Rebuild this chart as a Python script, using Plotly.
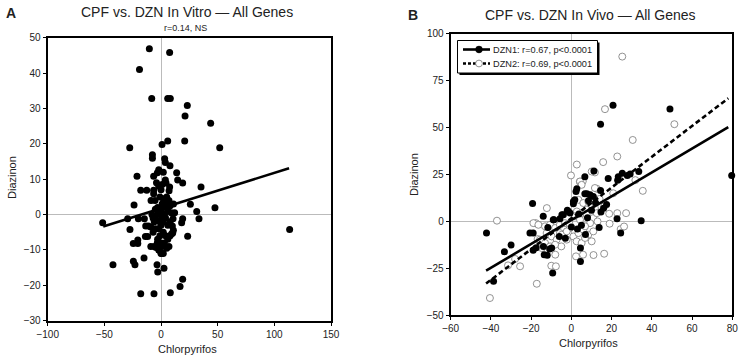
import plotly.graph_objects as go

# ---------------- Panel A data (in vitro) ----------------
a_x = [-10.3, 7.6, -19, -8.2, 5.9, 8.2, 23.2, 21.2, 43.8, 5.9, 20.9, 0.9, -27.6, 51.8,
       -7.6, -7.6, 3.2, 3.8, 7.9, -2, -3.2, -6.5, -21.2, 13.8, 14.7, 19.1, 3.8, 4.4, 7.6,
       7.1, 35.3, -17.9, -12.6, -6.5, -6.5, -8.8, -5.3, -23.8, 25.9, 31.5, 47.6, 33.5,
       -29.4, -51.5, -20, -14.7, -27.4, -13.5, -11.2, 10.6, 10, 10.3, 18.2, 19.1, 23.5,
       113.5, -13.8, -11.8, -20.5, -24.5, -20.5, -15, -24.4, -23, -42.4, -3.5, -2.9, 2.6,
       19.1, 16.8, -17.9, -6.2, 8.2,
       -1, 1, 2, 4, 5, 6, 7, 8, 9, 3, 1, -1, -3, -4, -2, 0, 2, 4, 6, 8, -5, -6, -7, -8,
       -3, -5, 0, 2, 4, -1, -3, 0, 3, 6, 7, 5, 1, -2, -4, 0, 2, -6, 8, -9, -7, -9, 12, 11,
       -2, 0, -4, 2, 5, 1, -3.3, -4.4, -1.5, 0.6, 9.4, 10.9]
a_y = [46.9, 45.8, 41, 32.8, 32.8, 32.8, 30.8, 27.9, 25.8, 20.8, 20.8, 19.8, 18.9, 18.9,
       16.9, 15.9, 15.8, 14.7, 13.8, 12.7, 11.8, 10.8, 10.8, 11.8, 9.8, 8.9, 9.8, 8.9, 7.8,
       6.7, 7.8, 6.9, 6.9, 6.9, 5.9, 4.0, 4.0, 2.7, 2.9, 0.9, 1.9, -1.2,
       -1.2, -2.3, -1.2, -1.2, -4.2, -3.2, -3.2, -1.2, -3.2, -5.2, -2.3, -1.2, -6.1,
       -4.2, -6.2, -6.2, -7.2, -8.2, -8.2, -12.3, -13.2, -14.2, -14.2, -14.2, -16.2, -15.2,
       -18.3, -20.3, -22.4, -22.4, -22.1,
       5, 3, 4.5, 2, 3.5, 1, 4, 2.5, 0.5, 0, -1, -2, 0, -1.5, -4, -3, -2, -1, -3, -2, -4,
       -2, -1, 0, 2, 1.5, 1, -5, -6, -6, -7, -8, -8, -7, -9, -9.5, -9, -10, -9, -11, -11,
       -9, -6, -9, -5, -3.5, 0.5, 3, 8, 7, 9, 12, 5, 8.5, -8, -9.3, -10.1, -11, -5.4, -4.4]
fit_a_x = [-51, 113]
fit_a_y = [-3.4, 13.1]

# ---------------- Panel B data (in vivo) ----------------
b1_x = [-42.2, -38.7, -33.3, -30, -19.3, -19, -19, -17.5, -14, -13.5, -12, -11.7, -10.8,
        -9.3, -8.7, -5.7, -4.7, -2, 1, 1.7, 2.7, 3.7, 4.5, 4.5, 6.7, 6.7, 7.7, 8.5, 11.2,
        14.5, 14.5, 14.7, 13.8, 18.3, 20.7, 22.7, 23.3, 23, 24.5, 25.3, 27.8, 29.2, 33.5,
        34.7, 49, 79.7,
        -20.6, -13.9, -9.8, -9, -4, -0.7, 1, 2.3, 9.3, 10.9, -1.5, 5, 7, 3, 12, 10, 8, 0,
        -6, -3, 16, 17.5]
b1_y = [-6.2, -31.9, -16.1, -12.6, 9.6, -6.2, -15.4, -14, 2.7, -17.7, -18, -3.2, -14.7,
        -27.5, 0.9, 1.4, 3.5, 5.9, 9.4, 11.5, 17.4, 3.9, -14.2, -21.3, 14.7, 23.8, 14.7,
        11, 26.8, 51.8, 16.5, 5, -3.2, 22.9, 61.9, 1.4, 23.8, 22, -6.2, 25.7, 24.5, 25.2,
        26.6, 0.4, 59.9, 24.5,
        -6.2, -13.3, -14.2, 0.9, 3.6, 4.5, 10.6, 16, 14.2, 13.3, 5.3, -2, -7, -4, 10, 6,
        2, -3, -8, -9, 7, 9]
b2_x = [-37, -40.5, -31.5, -25.5, -17.2, -17.7, -16.8, -14.7, -12.2, -10, -7.7, -8, -5.7,
        -5, -0.2, 2.7, 2.3, 5.8, 11, 16.3, 16.7, 15.8, 11.7, 12.7, 4.2, 5.7, 22.8, 25.3,
        30.5, 31.8, 35.5, 51.2, 82.2, 18.8, 19, 22.8, 24.5, 26.2, 27.2, 16.3, 20.8, 10.1,
        4.3, 5.1, 11.7, 3.5, 5.9, 8.4, 10.1, 7.6, 11.7, 5.1, 2.7, 9.3,
        -18.9, -16.4, -13.1, -10.6, -8.1, -5.7, -3.2, -0.7, -12.3, -9.8, -7.3, -4.8, -2.3,
        -15.6, -13.1, -10.6, -8.1, -2.3, 1, 3.5, 6, 8.4, 10.9, 2.6, 5.1, 6.8, 10.1, 1.8,
        4.3, 7.6, 10.9, 12.6, 9.3, 6.8, -28, 14, 13, -1]
b2_y = [0.4, -40.8, -23.4, -23.9, -33.2, -0.9, -9.4, -14.2, 7.1, -23.6, -23.9, -17.7, -6.2,
        -13.3, 24.5, 30.3, -18.6, -17.7, -17.9, -17.2, 59.8, 31.6, 26.1, 17.4, 21.1, 21.5,
        34.6, 87.8, 43.4, 22, 16.3, 51.8, 72.2, 4.1, -1.2, 4.4, -4.1, -2.7, 4.4, 8, 15,
        26.6, 21.3, 19.5, 17.8, 11.5, 9.8, 10.6, 8.9, 6.2, 7.1, 4.5, 5.3, 3.6,
        -0.9, -1.8, -2.6, -1.8, -3.5, -1.8, -0.9, -3.5, -6.2, -8, -9.7, -7.1, -5.3,
        -9.7, -11.5, -13.3, -12.4, -9.7, -8, -6.2, -4.4, -7.1, -5.3, -10.6, -11.5, -8.8,
        -10.6, 2.7, 0.9, 3.6, 1.8, 4.4, -0.9, -2.6, -20, 12, 0, -1]
fit_b1_x = [-42.4, 78]
fit_b1_y = [-26.2, 50.2]
fit_b2_x = [-42.4, 78]
fit_b2_y = [-33.1, 65.6]
legend_labels = ["DZN1: r=0.67, p<0.0001", "DZN2: r=0.69, p<0.0001"]

FONT = "Liberation Sans, Arial, Helvetica, sans-serif"
W, H = 747, 362

fig = go.Figure()

# Panel A
fig.add_trace(go.Scatter(x=a_x, y=a_y, mode="markers", xaxis="x", yaxis="y",
                         marker=dict(size=7, color="black", line=dict(width=0)),
                         showlegend=False, hoverinfo="skip"))
fig.add_trace(go.Scatter(x=fit_a_x, y=fit_a_y, mode="lines", xaxis="x", yaxis="y",
                         line=dict(color="black", width=2.6), showlegend=False, hoverinfo="skip"))

# Panel B
fig.add_trace(go.Scatter(x=b2_x, y=b2_y, mode="markers", xaxis="x2", yaxis="y2",
                         marker=dict(size=7, color="white", line=dict(width=0.8, color="#777")),
                         showlegend=False, cliponaxis=False, hoverinfo="skip"))
fig.add_trace(go.Scatter(x=b1_x, y=b1_y, mode="markers", xaxis="x2", yaxis="y2",
                         marker=dict(size=7, color="black", line=dict(width=0)),
                         showlegend=False, cliponaxis=False, hoverinfo="skip"))
fig.add_trace(go.Scatter(x=fit_b1_x, y=fit_b1_y, mode="lines", xaxis="x2", yaxis="y2",
                         line=dict(color="black", width=2.6), showlegend=False, hoverinfo="skip"))
fig.add_trace(go.Scatter(x=fit_b2_x, y=fit_b2_y, mode="lines", xaxis="x2", yaxis="y2",
                         line=dict(color="black", width=2.6, dash="5px,3px"), showlegend=False,
                         hoverinfo="skip"))

axis_common = dict(showline=True, linecolor="black", linewidth=2, mirror=True,
                   ticks="outside", ticklen=3, tickwidth=1, tickcolor="black",
                   showgrid=False, zeroline=True, zerolinecolor="#bbbbbb", zerolinewidth=1,
                   automargin=False,
                   tickfont=dict(size=10, color="#222", family=FONT))

fig.update_layout(
    width=W, height=H, margin=dict(l=0, r=0, t=0, b=0, autoexpand=False),
    paper_bgcolor="white", plot_bgcolor="white",
    font=dict(family=FONT, color="#222"),
    xaxis=dict(domain=[47.7 / W, 331 / W], range=[-100, 150], tickvals=[-100, -50, 0, 50, 100, 150],
               anchor="y", **axis_common),
    yaxis=dict(domain=[1 - 320.7 / H, 1 - 37.7 / H], range=[-30, 50], tickvals=list(range(-30, 51, 10)),
               anchor="x", **axis_common),
    xaxis2=dict(domain=[450.7 / W, 732.3 / W], range=[-60, 80], tickvals=list(range(-60, 81, 20)),
                anchor="y2", **axis_common),
    yaxis2=dict(domain=[1 - 315.3 / H, 1 - 33.7 / H], range=[-50, 100], tickvals=list(range(-50, 101, 25)),
                anchor="x2", **axis_common),
    showlegend=False,
)

# ---- Legend box for panel B (drawn as a key, pixel positions converted to paper) ----
def px(x):
    return x / W

def py(y):
    return 1 - y / H

shapes = []
# shadow
shapes.append(dict(type="rect", xref="paper", yref="paper", layer="above",
                   x0=px(459.5), x1=px(599.5), y0=py(42.5), y1=py(75),
                   fillcolor="black", line=dict(width=0)))
# box
shapes.append(dict(type="rect", xref="paper", yref="paper", layer="above",
                   x0=px(457.5), x1=px(597.5), y0=py(40.5), y1=py(73),
                   fillcolor="white", line=dict(color="black", width=1)))
rows = [49.5, 63.5]
dashes = ["solid", "3px,2px"]
for r, d in zip(rows, dashes):
    shapes.append(dict(type="line", xref="paper", yref="paper", layer="above",
                       x0=px(463), x1=px(490), y0=py(r), y1=py(r),
                       line=dict(color="black", width=2.6, dash=d)))
mr = 3.4
shapes.append(dict(type="circle", xref="paper", yref="paper", layer="above",
                   x0=px(479 - mr), x1=px(479 + mr), y0=py(rows[0] - mr), y1=py(rows[0] + mr),
                   fillcolor="black", line=dict(color="black", width=0.5)))
shapes.append(dict(type="circle", xref="paper", yref="paper", layer="above",
                   x0=px(479 - mr), x1=px(479 + mr), y0=py(rows[1] - mr), y1=py(rows[1] + mr),
                   fillcolor="white", line=dict(color="#777", width=0.8)))
fig.update_layout(shapes=shapes)

ann = []
def A(text, x, y, size, bold=False, angle=0, xanchor="center"):
    ann.append(dict(text=("<b>%s</b>" % text) if bold else text, x=px(x), y=py(y),
                    xref="paper", yref="paper", showarrow=False, xanchor=xanchor, yanchor="middle",
                    textangle=angle, font=dict(size=size, color="#222", family=FONT)))

A("A", 11, 13, 14, bold=True)
A("CPF vs. DZN In Vitro \u2014 All Genes", 187, 12.5, 14)
A("r=0.14, NS", 185, 27.7, 9)
A("Chlorpyrifos", 187, 349, 11)
A("Diazinon", 12, 177, 11, angle=-90)
A("B", 413, 15, 14, bold=True)
A("CPF vs. DZN In Vivo \u2014 All Genes", 590.7, 15, 14)
A("Chlorpyrifos", 588, 343.3, 11)
A("Diazinon", 414, 175, 11, angle=-90)
for lbl, r in zip(legend_labels, rows):
    A(lbl, 491, r, 9.2, xanchor="left")
fig.update_layout(annotations=ann)

fig.write_html("out.html", config={"displayModeBar": False},
               post_script="document.body.style.margin='0';document.body.style.overflow='hidden';")
